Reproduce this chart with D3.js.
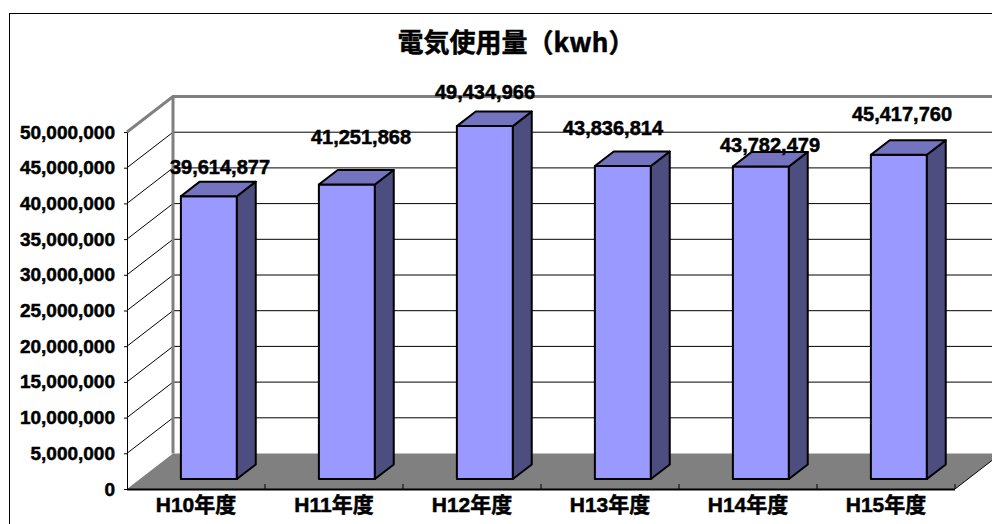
<!DOCTYPE html>
<html>
<head>
<meta charset="utf-8">
<script src="https://cdn.jsdelivr.net/npm/d3@7"></script>
<style>
  body { margin: 0; background: #fff; }
  svg { display: block; }
</style>
</head>
<body>
<svg id="chart" width="992" height="524"></svg>
<script>
const categories = ["H10年度", "H11年度", "H12年度", "H13年度", "H14年度", "H15年度"];
const values = [39614877, 41251868, 49434966, 43836814, 43782479, 45417760];
const yMax = 50000000;
const title = "電気使用量（kwh）";

// layout
const FRONT_LEFT = 127;
const FRONT_RIGHT = 955;
const FRONT_TOP = 132;
const FRONT_BOTTOM = 489;
const DEPTH_X = 46;
const DEPTH_Y = -35.5;
const BAR_D0 = 0.28;   // bar front, as fraction of floor depth
const BAR_D1 = 0.69;   // bar back
const BAR_HALF = 28;

// excel puts the 3d data labels a bit off, nudges per bar (px)
const LABEL_DX = [24, 27, 13, 3, 22, 16];
const LABEL_DY = [-8, -26, -13, -17, 0, -19];

const NUM_FONT = "'Liberation Sans', Arial, 'Noto Sans CJK JP', sans-serif";
const JP_FONT = "'Noto Sans CJK JP', sans-serif";

const svg = d3.select("#chart");

const x = d3.scaleBand().domain(categories).range([FRONT_LEFT, FRONT_RIGHT]);
const y = d3.scaleLinear().domain([0, yMax]).range([FRONT_BOTTOM, FRONT_TOP]);

// point on the 3d box: front x, value, depth fraction
function proj(px, v, d) {
  return [px + d * DEPTH_X, y(v) + d * DEPTH_Y];
}
const pts = arr => arr.map(p => p.join(",")).join(" ");

// heavier bold, the original font is fatter than liberation
function heavy(sel, size, family) {
  sel.style("font-family", family || NUM_FONT)
    .style("font-weight", "bold")
    .style("font-size", size + "px")
    .attr("fill", "#000")
    .attr("stroke", "#000")
    .attr("stroke-width", 0.5);
}

// outer chart border
svg.append("rect")
  .attr("x", 9.5).attr("y", 13.5)
  .attr("width", 1100).attr("height", 600)
  .attr("fill", "#fff").attr("stroke", "#000").attr("stroke-width", 1);

svg.append("text")
  .attr("x", 516).attr("y", 52)
  .attr("text-anchor", "middle")
  .call(heavy, 26, JP_FONT)
  .text(title);

const ticks = y.ticks(10);

// back wall gridlines
svg.append("g").selectAll("line")
  .data(ticks.filter(t => t > 0 && t < yMax))
  .join("line")
  .attr("x1", d => proj(FRONT_LEFT, d, 1)[0])
  .attr("x2", d => proj(FRONT_RIGHT, d, 1)[0])
  .attr("y1", d => proj(FRONT_LEFT, d, 1)[1])
  .attr("y2", d => proj(FRONT_LEFT, d, 1)[1])
  .attr("stroke", "#000").attr("stroke-width", 1);

// left wall diagonals
svg.append("g").selectAll("line")
  .data(ticks.filter(t => t > 0 && t < yMax))
  .join("line")
  .attr("x1", FRONT_LEFT)
  .attr("y1", d => y(d))
  .attr("x2", d => proj(FRONT_LEFT, d, 1)[0])
  .attr("y2", d => proj(FRONT_LEFT, d, 1)[1])
  .attr("stroke", "#000").attr("stroke-width", 1);

// wall edges (gray)
const wallTopL = proj(FRONT_LEFT, yMax, 0);
const wallBackTL = proj(FRONT_LEFT, yMax, 1);
const wallBackBL = proj(FRONT_LEFT, 0, 1);
const wallBackTR = proj(FRONT_RIGHT, yMax, 1);
svg.append("polyline")
  .attr("points", pts([wallTopL, wallBackTL, wallBackTR]))
  .attr("fill", "none").attr("stroke", "#808080").attr("stroke-width", 3);
svg.append("line")
  .attr("x1", wallBackTL[0]).attr("y1", wallBackTL[1])
  .attr("x2", wallBackBL[0]).attr("y2", wallBackBL[1])
  .attr("stroke", "#808080").attr("stroke-width", 3);

// floor
svg.append("polygon")
  .attr("points", pts([
    proj(FRONT_LEFT, 0, 0), proj(FRONT_RIGHT, 0, 0),
    proj(FRONT_RIGHT, 0, 1), proj(FRONT_LEFT, 0, 1)
  ]))
  .attr("fill", "#808080").attr("stroke", "none");
svg.append("line")
  .attr("x1", FRONT_RIGHT).attr("y1", y(0))
  .attr("x2", proj(FRONT_RIGHT, 0, 1)[0]).attr("y2", proj(FRONT_RIGHT, 0, 1)[1])
  .attr("stroke", "#000").attr("stroke-width", 1);

// y axis
const yAxis = d3.axisLeft(y)
  .tickValues(ticks)
  .tickSize(3)
  .tickSizeOuter(0)
  .tickPadding(9)
  .tickFormat(d3.format(","));
const gy = svg.append("g")
  .attr("transform", `translate(${FRONT_LEFT},0)`)
  .call(yAxis);
gy.select(".domain").attr("stroke", "#000");
gy.selectAll("text").call(heavy, 19);

// x axis line + inward ticks at category boundaries
svg.append("line")
  .attr("x1", FRONT_LEFT).attr("x2", FRONT_RIGHT)
  .attr("y1", y(0) + 0.5).attr("y2", y(0) + 0.5)
  .attr("stroke", "#000").attr("stroke-width", 2);
svg.append("g").selectAll("line")
  .data(categories)
  .join("line")
  .attr("x1", d => x(d) + x.bandwidth())
  .attr("x2", d => x(d) + x.bandwidth())
  .attr("y1", y(0) - 5).attr("y2", y(0))
  .attr("stroke", "#000").attr("stroke-width", 1);

svg.append("g").selectAll("text")
  .data(categories)
  .join("text")
  .attr("x", d => x(d) + x.bandwidth() / 2)
  .attr("y", 512)
  .attr("text-anchor", "middle")
  .call(heavy, 21)
  .text(d => d);

// bars
const bars = svg.append("g").selectAll("g")
  .data(values.map((v, i) => ({ v, c: categories[i], i })))
  .join("g");

const cx = d => x(d.c) + x.bandwidth() / 2;

bars.append("polygon") // front
  .attr("points", d => pts([
    proj(cx(d) - BAR_HALF, 0, BAR_D0), proj(cx(d) + BAR_HALF, 0, BAR_D0),
    proj(cx(d) + BAR_HALF, d.v, BAR_D0), proj(cx(d) - BAR_HALF, d.v, BAR_D0)
  ]))
  .attr("fill", "#9999ff");

bars.append("polygon") // side
  .attr("points", d => pts([
    proj(cx(d) + BAR_HALF, 0, BAR_D0), proj(cx(d) + BAR_HALF, 0, BAR_D1),
    proj(cx(d) + BAR_HALF, d.v, BAR_D1), proj(cx(d) + BAR_HALF, d.v, BAR_D0)
  ]))
  .attr("fill", "#4d4d80");

bars.append("polygon") // top
  .attr("points", d => pts([
    proj(cx(d) - BAR_HALF, d.v, BAR_D0), proj(cx(d) + BAR_HALF, d.v, BAR_D0),
    proj(cx(d) + BAR_HALF, d.v, BAR_D1), proj(cx(d) - BAR_HALF, d.v, BAR_D1)
  ]))
  .attr("fill", "#7373bf");

bars.selectAll("polygon")
  .attr("stroke", "#000").attr("stroke-width", 2).attr("stroke-linejoin", "round");

// value labels
bars.append("text")
  .attr("x", d => cx(d) + LABEL_DX[d.i])
  .attr("y", d => proj(cx(d), d.v, BAR_D1)[1] + LABEL_DY[d.i])
  .attr("text-anchor", "middle")
  .call(heavy, 20)
  .text(d => d3.format(",")(d.v));
</script>
</body>
</html>
